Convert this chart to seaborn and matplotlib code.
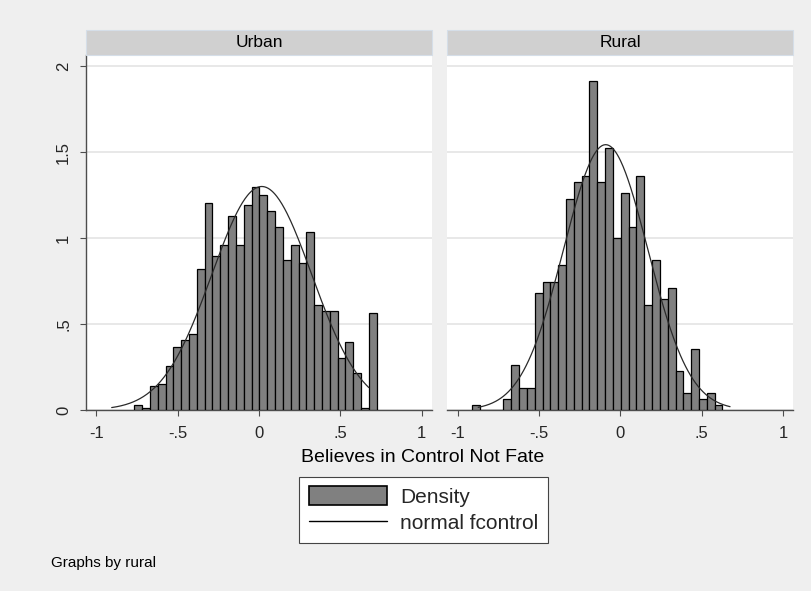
import numpy as np
import pandas as pd
import matplotlib
matplotlib.use("Agg")
import matplotlib.pyplot as plt
from matplotlib.patches import Rectangle, Patch
from matplotlib.lines import Line2D
import seaborn as sns

# ---------------- data ----------------
panels = ["Urban", "Rural"]
bin_width = 0.0481

urban_start = -0.767
urban_density = [0.029, 0.013, 0.137, 0.151, 0.258, 0.364, 0.409, 0.442, 0.820,
                 1.203, 0.897, 0.957, 1.126, 0.957, 1.190, 1.297, 1.250, 1.157,
                 1.064, 0.870, 0.957, 0.855, 1.035, 0.608, 0.577, 0.577, 0.304,
                 0.395, 0.213, 0.013, 0.562]

rural_start = -0.911
rural_density = [0.029, 0.0, 0.0, 0.0, 0.064, 0.259, 0.128, 0.128, 0.680, 0.744,
                 0.744, 0.841, 1.228, 1.325, 1.358, 1.910, 1.325, 1.523, 1.000,
                 1.263, 1.066, 1.358, 0.612, 0.872, 0.645, 0.709, 0.225, 0.097,
                 0.355, 0.064, 0.097, 0.029]

# fitted normal curve parameters (mean, sd) and drawn range
urban_normal = {"mean": 0.017, "sd": 0.307, "lo": -0.906, "hi": 0.675}
rural_normal = {"mean": -0.090, "sd": 0.2586, "lo": -0.874, "hi": 0.675}

x_ticks = [-1, -0.5, 0, 0.5, 1]
x_ticklabels = ["-1", "-.5", "0", ".5", "1"]
y_ticks = [0, 0.5, 1, 1.5, 2]
y_ticklabels = ["0", ".5", "1", "1.5", "2"]

x_title = "Believes in Control Not Fate"
legend_labels = ["Density", "normal fcontrol"]
note = "Graphs by rural"

# ---------------- styling ----------------
sns.set_theme(style="white")
plt.rcParams["font.family"] = ["Liberation Sans", "DejaVu Sans"]

BG = "#EFEFEF"
BAR = "#808080"
GRID = "#E6E6E6"
AXC = "#4D4D4D"

W, H = 811, 591
fig = plt.figure(figsize=(W / 100, H / 100), dpi=100, facecolor=BG)

def fx(px):
    return px / W

def fy(py):
    return 1 - py / H

ax_left_px = [86.0, 447.3]
ax_w_px = 346.0
ax_top_px, ax_bot_px = 55.0, 410.0
hdr_top_px = 30.0

data = {
    "Urban": (urban_start, urban_density, urban_normal),
    "Rural": (rural_start, rural_density, rural_normal),
}

axes = []
for i, name in enumerate(panels):
    l = ax_left_px[i]
    ax = fig.add_axes([fx(l), fy(ax_bot_px), ax_w_px / W, (ax_bot_px - ax_top_px) / H])
    ax.set_facecolor("white")
    start, dens, nrm = data[name]
    n = len(dens)
    centers = start + bin_width * (np.arange(n) + 0.5)
    df = pd.DataFrame({"x": centers, "w": dens})
    sns.histplot(data=df, x="x", weights="w", bins=n,
                 binrange=(start, start + n * bin_width), ax=ax, stat="count",
                 color=BAR, edgecolor="black", linewidth=0.9, alpha=1.0, zorder=3)
    xs = np.linspace(nrm["lo"], nrm["hi"], 300)
    ys = np.exp(-0.5 * ((xs - nrm["mean"]) / nrm["sd"]) ** 2) / (nrm["sd"] * np.sqrt(2 * np.pi))
    sns.lineplot(x=xs, y=ys, ax=ax, color="#2A2A2A", linewidth=0.9, zorder=4)

    ax.set_xlim(-1.064, 1.064)
    ax.set_ylim(0, 2.064)
    ax.set_xlabel("")
    ax.set_ylabel("")
    ax.set_yticks(y_ticks)
    ax.grid(axis="y", color=GRID, linewidth=1.3, zorder=0)
    ax.grid(axis="x", visible=False)
    ax.set_axisbelow(True)
    ax.set_xticks(x_ticks)
    ax.set_xticklabels(x_ticklabels, fontsize=12)
    ax.tick_params(axis="x", direction="out", length=4.3, width=0.8, color=AXC,
                   pad=7, bottom=True)
    for s in ["top", "right"]:
        ax.spines[s].set_visible(False)
    ax.spines["bottom"].set_color(AXC)
    ax.spines["bottom"].set_linewidth(1.0)
    if i == 0:
        ax.set_yticklabels(y_ticklabels, fontsize=12, rotation=90, va="center")
        ax.tick_params(axis="y", direction="out", length=4.3, width=0.8, color=AXC,
                       pad=6.5, left=True)
        ax.spines["left"].set_color(AXC)
        ax.spines["left"].set_linewidth(1.0)
    else:
        ax.set_yticklabels([])
        ax.tick_params(axis="y", left=False, length=0)
        ax.spines["left"].set_visible(False)
    axes.append(ax)

    # strip header
    fig.add_artist(Rectangle((fx(l), fy(ax_top_px)), ax_w_px / W,
                             (ax_top_px - hdr_top_px) / H, transform=fig.transFigure,
                             facecolor="#D0D0D0", edgecolor="#D5DEE8", linewidth=0.8))
    fig.text(fx(l + ax_w_px / 2), fy((ax_top_px + hdr_top_px) / 2), name,
             ha="center", va="center", fontsize=12.5, color="black")

fig.text(fx(423), fy(458), x_title, ha="center", va="center", fontsize=14, color="black")

handles = [Patch(facecolor=BAR, edgecolor="black", linewidth=1.2),
           Line2D([0], [0], color="black", linewidth=1.0)]
leg = fig.legend(handles, legend_labels, loc="upper left",
                 bbox_to_anchor=(fx(299.3), fy(476.7)), fontsize=15,
                 frameon=True, fancybox=False, edgecolor="#444444",
                 facecolor="white", framealpha=1, handlelength=3.75,
                 handleheight=1.0, borderpad=0.45, labelspacing=0.3,
                 handletextpad=0.65, borderaxespad=0)
leg.get_frame().set_linewidth(0.8)

fig.text(fx(51), fy(563), note, ha="left", va="center", fontsize=11, color="black")

fig.savefig("out.png", dpi=100, facecolor=BG)
